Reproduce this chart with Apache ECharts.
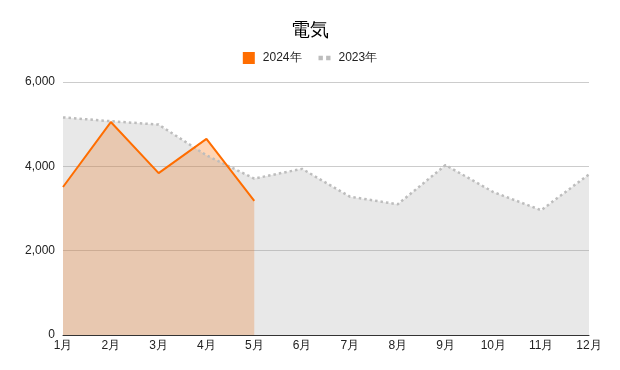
<!DOCTYPE html>
<html><head><meta charset="utf-8">
<script src="https://cdn.jsdelivr.net/npm/echarts@6/dist/echarts.min.js"></script>
<style>html,body{margin:0;padding:0;background:#fff}#c{width:620px;height:370px}</style>
</head><body><div id="c"></div>
<script>
const months = ['1月','2月','3月','4月','5月','6月','7月','8月','9月','10月','11月','12月'];
const values2024 = [3510, 5050, 3840, 4650, 3180];
const values2023 = [5160, 5070, 4990, 4260, 3710, 3940, 3280, 3100, 4030, 3390, 2960, 3810];
const yTicks = [0, 2000, 4000, 6000];

const chart = echarts.init(document.getElementById('c'), null, {renderer: 'canvas'});
const font = 'Liberation Sans, Arial, sans-serif';
chart.setOption({
  animation: false,
  textStyle: {fontFamily: font},
  title: {text: '電気', left: 'center', top: 16, textStyle: {fontSize: 19, fontWeight: 'normal', color: '#000', fontFamily: font}},
  legend: {
    top: 47, left: 'center', itemWidth: 12, itemHeight: 12, itemGap: 17,
    textStyle: {fontSize: 12, color: '#222', fontFamily: font, padding: [0, 0, 0, 3]},
    data: [
      {name: '2024年', icon: 'rect', itemStyle: {color: '#ff6d00'}},
      {name: '2023年', icon: 'path://M0,0h4v4h-4zM7,0h4v4h-4z', itemStyle: {color: '#bdbdbd'}}
    ]
  },
  grid: {left: 63, right: 31, top: 82, bottom: 35},
  xAxis: {
    type: 'category', data: months, boundaryGap: false,
    axisLine: {lineStyle: {color: '#333'}}, axisTick: {show: false},
    axisLabel: {color: '#222', fontSize: 12, margin: 5, interval: 0}
  },
  yAxis: {
    type: 'value', min: yTicks[0], max: yTicks[yTicks.length-1], interval: 2000,
    axisLine: {show: false}, axisTick: {show: false},
    axisLabel: {color: '#222', fontSize: 12, margin: 8, formatter: v => v.toLocaleString('en-US')},
    splitLine: {lineStyle: {color: '#ccc'}}
  },
  series: [
    {name: '2024年', type: 'line', data: values2024, symbol: 'none', z: 1,
     lineStyle: {width: 0}, itemStyle: {color: '#ff6d00'},
     areaStyle: {color: '#ff6d00', opacity: 0.29}},
    {name: '2023年', type: 'line', data: values2023, symbol: 'none', z: 2,
     lineStyle: {color: '#bdbdbd', width: 2.5, type: [2.5, 3]}, itemStyle: {color: '#bdbdbd'},
     areaStyle: {color: 'rgba(160,160,160,0.24)', opacity: 1}},
    {name: '2024年', type: 'line', data: values2024, symbol: 'none', z: 3,
     lineStyle: {color: '#ff6d00', width: 2}, itemStyle: {color: '#ff6d00'}}
  ]
});
</script></body></html>
